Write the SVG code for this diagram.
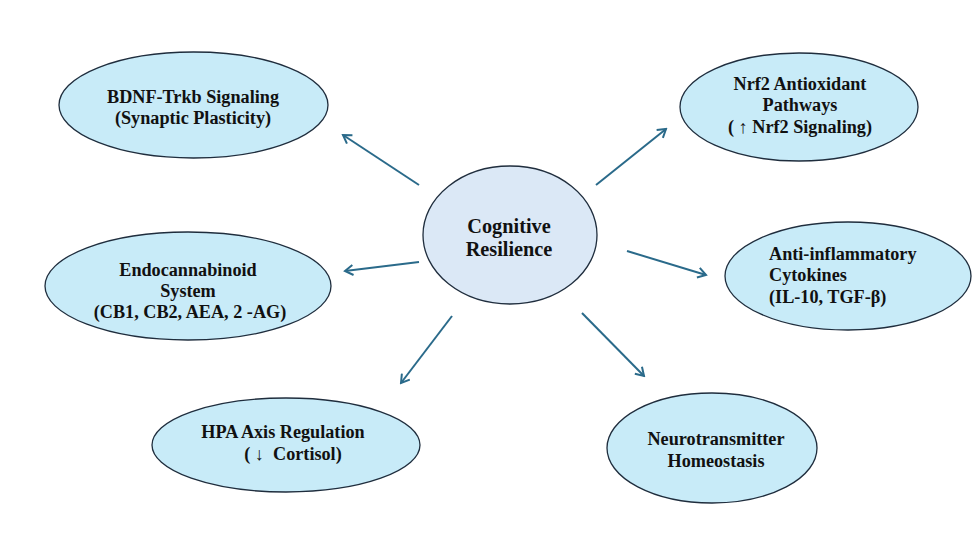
<svg xmlns="http://www.w3.org/2000/svg" width="975" height="548" viewBox="0 0 975 548">
<style>
.n{fill:#c8ebf8;stroke:#1f2d3d;stroke-width:1.3}
.c{fill:#dbe8f6;stroke:#1f2d3d;stroke-width:1.3}
text{font-weight:bold;font-size:18.2px;fill:#111}
.m{text-anchor:middle}
.big{font-size:20.3px}
.e{stroke:#2a6a8a;stroke-width:2;fill:none;marker-end:url(#ah)}
</style>
<defs>
<marker id="ah" viewBox="0 0 12 12" refX="10" refY="6" markerWidth="12" markerHeight="12" markerUnits="userSpaceOnUse" orient="auto">
<path d="M2,1 L10,6 L2,11" fill="none" stroke="#2a6a8a" stroke-width="2"/>
</marker>
</defs>
<rect width="975" height="548" fill="#fff"/>
<g id="connectors">
<line class="e" x1="419" y1="185" x2="343" y2="135"/>
<line class="e" x1="596" y1="185" x2="666" y2="129"/>
<line class="e" x1="419" y1="262" x2="345" y2="271"/>
<line class="e" x1="452" y1="316" x2="401" y2="383"/>
<line class="e" x1="627" y1="251" x2="706" y2="275"/>
<line class="e" x1="582" y1="313" x2="644" y2="376"/>
</g>
<g font-family="'Liberation Serif', 'DejaVu Serif', serif">
<g id="center">
<ellipse class="c" cx="510" cy="235" rx="87" ry="69"/>
<text class="m big" x="509" y="233">Cognitive</text>
<text class="m big" x="509" y="256">Resilience</text>
</g>
<g id="bdnf">
<ellipse class="n" cx="193.5" cy="105" rx="134.5" ry="53"/>
<text class="m" x="193" y="103">BDNF-Trkb Signaling</text>
<text class="m" x="193" y="124">(Synaptic Plasticity)</text>
</g>
<g id="nrf2">
<ellipse class="n" cx="799" cy="107" rx="119" ry="54"/>
<text class="m" x="800" y="90">Nrf2 Antioxidant</text>
<text class="m" x="800" y="111">Pathways</text>
<text class="m" x="800" y="133">( ↑ Nrf2 Signaling)</text>
</g>
<g id="endocannabinoid">
<ellipse class="n" cx="188" cy="286" rx="143" ry="54"/>
<text class="m" x="188" y="276">Endocannabinoid</text>
<text class="m" x="188" y="297">System</text>
<text class="m" x="190" y="318">(CB1, CB2, AEA, 2 -AG)</text>
</g>
<g id="antiinflammatory">
<ellipse class="n" cx="848" cy="276" rx="123" ry="54"/>
<text x="769" y="260">Anti-inflammatory</text>
<text x="769" y="281">Cytokines</text>
<text x="769" y="303">(IL-10, TGF-β)</text>
</g>
<g id="hpa">
<ellipse class="n" cx="286" cy="445" rx="134" ry="47"/>
<text class="m" x="283" y="438">HPA Axis Regulation</text>
<text class="m" x="293" y="460" xml:space="preserve">( ↓  Cortisol)</text>
</g>
<g id="neurotransmitter">
<ellipse class="n" cx="712" cy="448" rx="105" ry="55"/>
<text class="m" x="716" y="445">Neurotransmitter</text>
<text class="m" x="716" y="467">Homeostasis</text>
</g>
</g>
</svg>
